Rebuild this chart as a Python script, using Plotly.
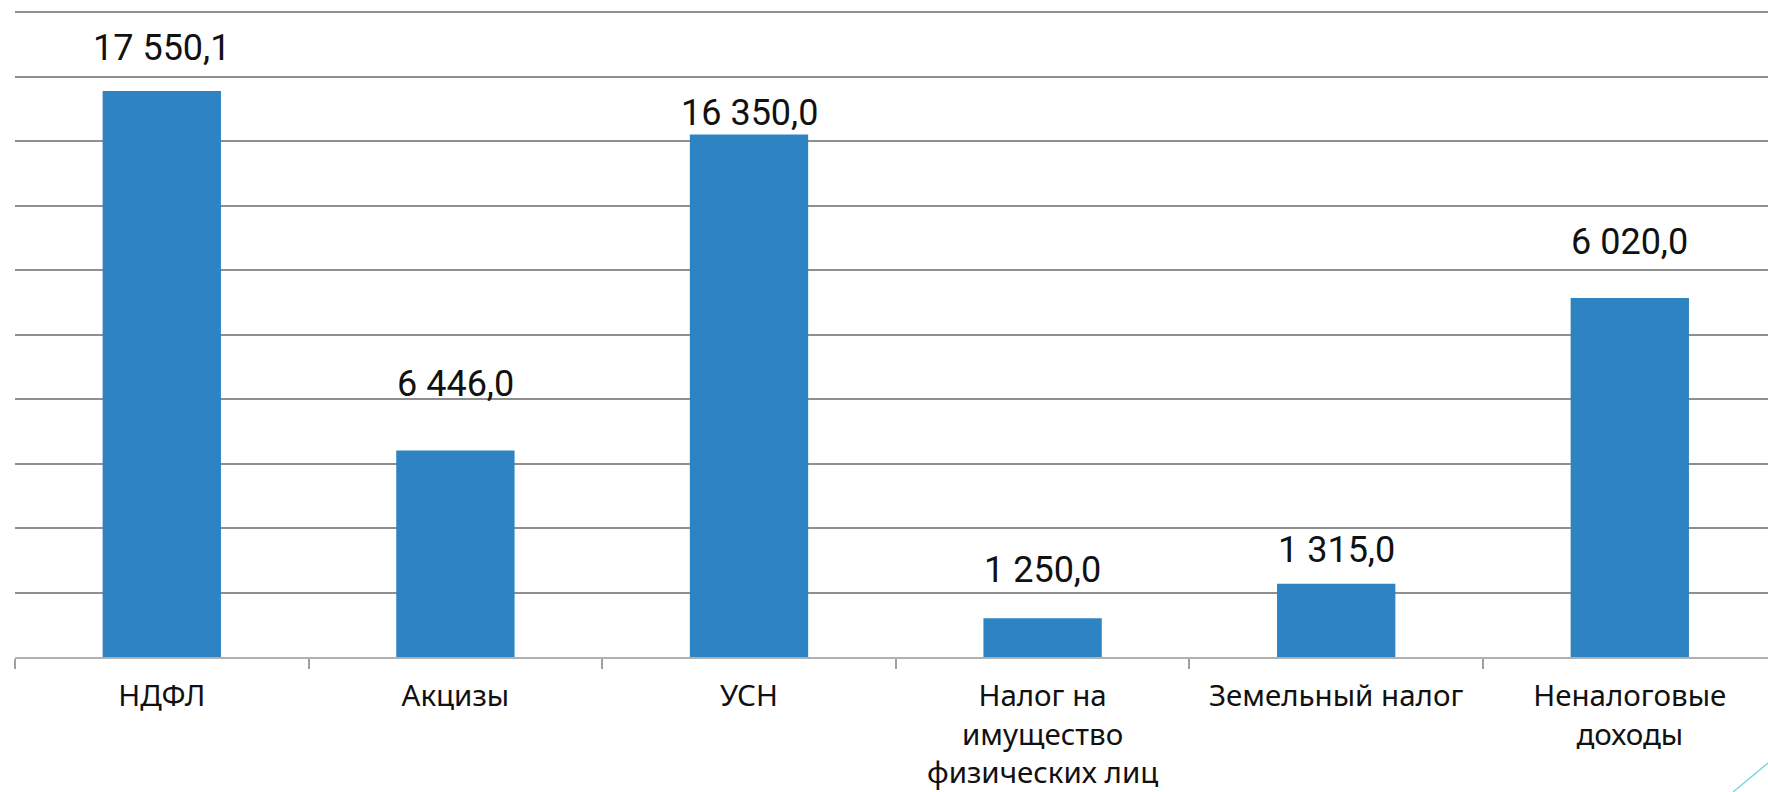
import plotly.graph_objects as go

categories = ["НДФЛ", "Акцизы", "УСН", "Налог на<br>имущество<br>физических лиц",
              "Земельный налог", "Неналоговые<br>доходы"]
# bar heights as drawn in the picture
bar_values = [17550, 6400, 16200, 1200, 2270, 11130]
# data labels as printed in the picture
label_texts = ["17 550,1", "6 446,0", "16 350,0", "1 250,0", "1 315,0", "6 020,0"]
# vertical anchor (in value units) where each label sits in the picture
label_y = [18880, 8460, 16860, 2690, 3330, 12860]

W, H = 1768, 792
L, T, B = 15, 10, 135
PW, PH = W - L, H - T - B
fig = go.Figure()
fig.add_trace(go.Bar(
    x=categories, y=bar_values,
    marker=dict(color="#2E83C3", line=dict(width=0)),
    width=0.403, hoverinfo="skip",
))
for c, t, ly in zip(categories, label_texts, label_y):
    fig.add_annotation(x=c, y=ly, text=t, showarrow=False, xanchor="center", yanchor="middle",
                       font=dict(family="Roboto", size=36, color="#111111"))

# decorative slide line bottom-right
fig.add_shape(type="line", xref="paper", yref="paper",
              x0=(1768 - L) / PW, y0=-(763 - (T + PH)) / PH,
              x1=(1733 - L) / PW, y1=-(792 - (T + PH)) / PH,
              line=dict(color="#7FD3E6", width=1.5))

fig.update_layout(
    width=W, height=H,
    margin=dict(l=L, r=0, t=T, b=B, autoexpand=False),
    plot_bgcolor="white", paper_bgcolor="white",
    showlegend=False,
    xaxis=dict(
        range=[-0.5, -0.5 + PW / 293.6], showgrid=False, showline=True, linecolor="#B0B0B0", linewidth=2,
        ticks="outside", tickson="boundaries", ticklen=10, tickcolor="#A0A0A0", tickwidth=2,
        ticklabelstandoff=12, automargin=False,
        tickfont=dict(family="Noto Sans", size=29.5, color="#111111"),
    ),
    yaxis=dict(
        range=[0, 20000 * PH / 645], dtick=2000, showgrid=True, gridcolor="#8F8F8F", gridwidth=2,
        showticklabels=False, zeroline=False, showline=False, ticks="", automargin=False,
    ),
)
fig.write_html("out.html", config={"displayModeBar": False},
               post_script="document.body.style.margin='0';document.body.style.overflow='hidden';")
